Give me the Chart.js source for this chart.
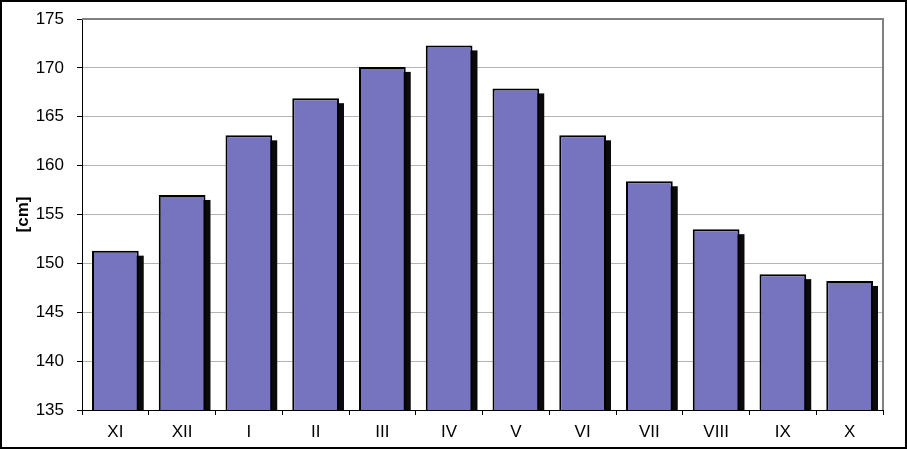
<!DOCTYPE html>
<html>
<head>
<meta charset="utf-8">
<script src="https://cdn.jsdelivr.net/npm/chart.js@4"></script>
<style>
  html, body { margin: 0; padding: 0; background: #fff; }
  #frame { width: 907px; height: 449px; box-sizing: border-box; border: 2px solid #000; }
  canvas { display: block; }
</style>
</head>
<body>
<div id="frame"><canvas id="chart" width="903" height="445"></canvas></div>
<script>
const months = ['XI', 'XII', 'I', 'II', 'III', 'IV', 'V', 'VI', 'VII', 'VIII', 'IX', 'X'];
const heights = [151.3, 157.0, 163.1, 166.9, 170.1, 172.3, 167.9, 163.1, 158.4, 153.5, 148.9, 148.2];
const yMin = 135;
const yMax = 175;
const yStep = 5;
const yTitle = '[cm]';

// black drop shadow behind each bar, drawn from the bar elements' own geometry
const barShadow = {
  id: 'barShadow',
  beforeDatasetsDraw(chart) {
    const { ctx, chartArea } = chart;
    const meta = chart.getDatasetMeta(0);
    ctx.save();
    ctx.beginPath();
    ctx.rect(chartArea.left, chartArea.top - 10, chartArea.width + 10, chartArea.height + 10);
    ctx.clip();
    ctx.fillStyle = '#0a0a0a';
    meta.data.forEach(bar => {
      const p = bar.getProps(['x', 'y', 'base', 'width'], true);
      ctx.fillRect(p.x - p.width / 2 + 5, p.y + 5, p.width, p.base - p.y);
    });
    ctx.restore();
  },
  afterDraw(chart) {
    const { ctx, chartArea } = chart;
    ctx.save();
    ctx.strokeStyle = '#808080';
    ctx.lineWidth = 2;
    ctx.beginPath();
    ctx.moveTo(chartArea.left, chartArea.top);
    ctx.lineTo(chartArea.right, chartArea.top);
    ctx.lineTo(chartArea.right, chartArea.bottom);
    ctx.stroke();
    ctx.restore();
  }
};

new Chart(document.getElementById('chart'), {
  type: 'bar',
  data: {
    labels: months,
    datasets: [{
      data: heights,
      backgroundColor: '#7674be',
      borderColor: '#000',
      borderWidth: 2,
      borderSkipped: 'start',
      barPercentage: 0.7,
      categoryPercentage: 1,
      clip: { left: 5, top: 5, right: 10, bottom: 0 }
    }]
  },
  options: {
    responsive: false,
    animation: false,
    layout: { padding: { left: 0, top: 17, right: 22, bottom: 0 } },
    plugins: {
      legend: { display: false },
      tooltip: { enabled: false }
    },
    scales: {
      x: {
        afterFit(scale) { scale.height = 37; },
        grid: { offset: true, drawOnChartArea: false, tickLength: 5, tickColor: '#000' },
        border: { color: '#000', width: 1 },
        ticks: { color: '#000', padding: 7, font: { family: 'Liberation Sans', size: 17 } }
      },
      y: {
        min: yMin,
        max: yMax,
        afterFit(scale) {
          scale.width = 80;
          scale.paddingTop = 0;
          scale.paddingBottom = 0;
        },
        grid: {
          color: '#b4b4b4',
          tickLength: 5,
          tickColor: '#000'
        },
        border: { color: '#000', width: 1 },
        ticks: { stepSize: yStep, color: '#000', padding: 13, font: { family: 'Liberation Sans', size: 17 } },
        title: {
          display: true,
          text: yTitle,
          color: '#000',
          padding: { top: 11, bottom: 0 },
          font: { family: 'Liberation Sans', size: 17, weight: 'bold' }
        }
      }
    }
  },
  plugins: [barShadow]
});
</script>
</body>
</html>
